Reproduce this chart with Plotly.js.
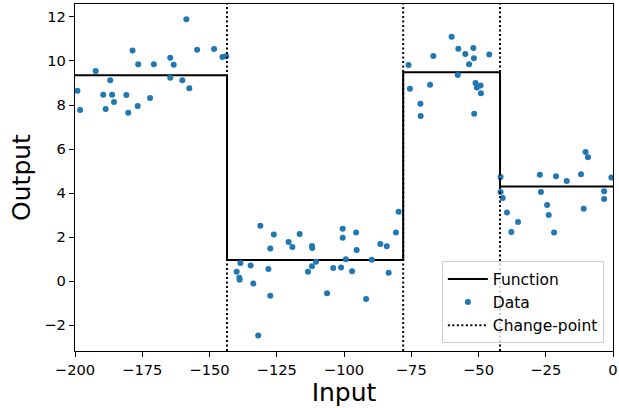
<!DOCTYPE html>
<html>
<head>
<meta charset="utf-8">
<script src="https://cdn.plot.ly/plotly-3.0.1.min.js"></script>
<style>html,body{margin:0;padding:0;background:#fff;}#chart{width:619px;height:408px;}</style>
</head>
<body>
<div id="chart"></div>
<script>
// Observed data points
const dataX = [
  -199.1, -198.1, -192.3, -186.9, -189.5, -188.6, -186.2, -185.5, -180.9, -180.2,
  -178.6, -176.5, -176.7, -172.1, -170.7, -164.6, -164.6, -163.3, -160.1, -158.6,
  -157.5, -154.6, -148.3, -145.2, -143.8,
  -138.5, -139.9, -138.9, -138.8, -134.7, -133.7, -131.9, -131.1, -128.1, -127.4,
  -127.4, -126.1, -120.6, -119.2, -116.5, -113.4, -111.9, -111.8, -111.9, -110.4,
  -106.3, -104.0, -101.1, -100.5, -100.5, -99.3, -97.0, -95.5, -95.3, -91.8,
  -89.7, -86.5, -84.1, -83.4, -80.7, -79.7,
  -76.0, -75.5, -71.6, -71.5, -68.0, -66.8, -60.0, -57.7, -57.5, -54.9,
  -53.5, -51.9, -51.7, -51.6, -51.1, -50.6, -49.2, -49.1, -46.0,
  -41.8, -41.8, -41.0, -39.4, -37.8, -35.3, -27.2, -26.8, -24.5, -23.9,
  -21.9, -21.2, -17.2, -11.9, -10.9, -10.2, -9.3, -3.3, -3.3, -0.6
];
const dataY = [
  8.65, 7.77, 9.55, 9.12, 8.47, 7.82, 8.47, 8.14, 8.45, 7.65,
  10.48, 9.85, 7.95, 8.32, 9.85, 10.15, 9.24, 9.83, 9.12, 11.9,
  8.76, 10.51, 10.55, 10.18, 10.21,
  0.82, 0.42, 0.15, 0.06, 0.71, -0.11, -2.47, 2.51, 0.55, 1.48,
  -0.67, 2.12, 1.77, 1.55, 2.14, 0.42, 1.59, 1.50, 0.67, 0.88,
  -0.55, 0.59, 0.62, 2.38, 1.97, 0.99, 0.45, 2.20, 1.41, -0.82,
  0.97, 1.68, 1.58, 0.38, 2.20, 3.15,
  9.82, 8.74, 8.06, 7.50, 8.92, 10.23, 11.10, 9.36, 10.56, 10.32,
  9.85, 10.59, 10.12, 7.60, 9.00, 8.79, 8.89, 8.53, 10.30,
  4.73, 4.05, 3.77, 3.12, 2.23, 2.68, 4.83, 4.05, 3.45, 3.00,
  2.20, 4.76, 4.55, 4.85, 3.29, 5.86, 5.62, 4.08, 3.73, 4.70
];

// Piecewise-constant function
const stepX = [-200, -143.5, -78, -42, 0];
const stepY = [9.35, 0.95, 9.49, 4.30, 4.30];

// Change-points
const changePoints = [-143.5, -78, -42];

// Axes
const xRange = [-200, 0];
const yRange = [-3.18, 12.59];
const xTicks = [-200, -175, -150, -125, -100, -75, -50, -25, 0];
const yTicks = [-2, 0, 2, 4, 6, 8, 10, 12];

const cpX = [], cpY = [];
changePoints.forEach(c => { cpX.push(c, c, null); cpY.push(yRange[0], yRange[1], null); });

const font = 'DejaVu Sans, sans-serif';

const traces = [
  {
    x: stepX, y: stepY, type: 'scatter', mode: 'lines', name: 'Function',
    line: {color: '#000000', width: 2, shape: 'hv'}
  },
  {
    x: dataX, y: dataY, type: 'scatter', mode: 'markers', name: 'Data',
    marker: {color: '#1f77b4', size: 6, line: {width: 0}}
  },
  {
    x: cpX, y: cpY, type: 'scatter', mode: 'lines', name: 'Change-point',
    line: {color: '#000000', width: 2, dash: '2px,2.5px'}
  }
];

const axisCommon = {
  showgrid: false, zeroline: false, showline: true, mirror: true,
  linecolor: '#000000', linewidth: 1.1,
  ticks: 'outside', ticklen: 5, tickwidth: 1, tickcolor: '#000000',
  tickfont: {family: font, size: 14.7, color: '#000000'},
  automargin: false
};

const layout = {
  width: 619, height: 408,
  margin: {l: 75, r: 6, t: 4, b: 57},
  paper_bgcolor: '#ffffff', plot_bgcolor: '#ffffff',
  font: {family: font, color: '#000000'},
  showlegend: true,
  legend: {
    x: 0.983, y: 0.022, xanchor: 'right', yanchor: 'bottom',
    bgcolor: 'rgba(255,255,255,0.8)', bordercolor: '#cccccc', borderwidth: 1,
    itemwidth: 40,
    font: {family: font, size: 15.5, color: '#000000'}
  },
  xaxis: Object.assign({}, axisCommon, {
    range: xRange, tickvals: xTicks,
    title: {text: 'Input', font: {family: font, size: 25, color: '#000000'}, standoff: 4}
  }),
  yaxis: Object.assign({}, axisCommon, {
    range: yRange, tickvals: yTicks,
    title: {text: 'Output', font: {family: font, size: 25, color: '#000000'}, standoff: 6}
  })
};

Plotly.newPlot('chart', traces, layout, {displayModeBar: false, staticPlot: true});
</script>
</body>
</html>
